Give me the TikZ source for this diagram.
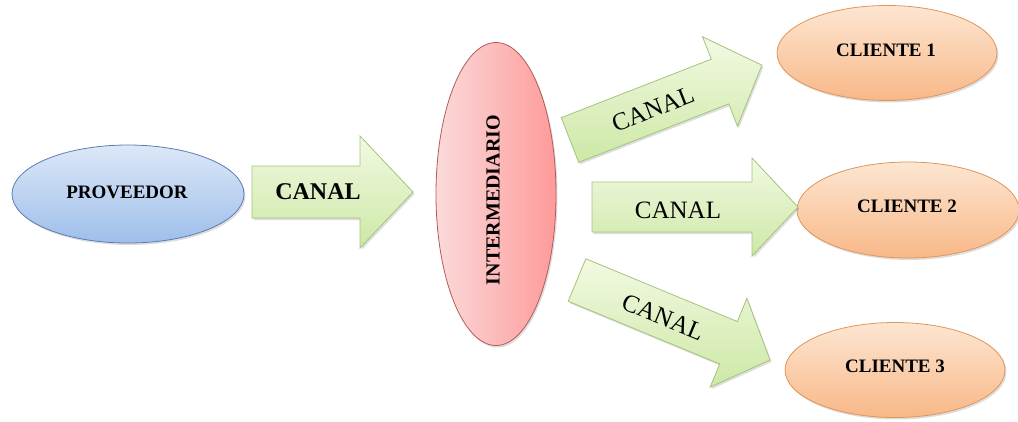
\documentclass[tikz,border=0pt]{standalone}
\usepackage{fontspec}
\setmainfont{Liberation Serif}
\usetikzlibrary{shapes.geometric,shadows}

\definecolor{provTop}{HTML}{DDE8F8}
\definecolor{provBot}{HTML}{9EBEEA}
\definecolor{provLine}{HTML}{5B7DB5}
\definecolor{intLeft}{HTML}{FBDADA}
\definecolor{intRight}{HTML}{FF9A9A}
\definecolor{intLine}{HTML}{B55A5A}
\definecolor{cliTop}{HTML}{FDE6D2}
\definecolor{cliBot}{HTML}{F8B888}
\definecolor{cliLine}{HTML}{E0965A}
\definecolor{arrTop}{HTML}{F2F9E2}
\definecolor{arrBot}{HTML}{CDE8A6}
\definecolor{arrLine}{HTML}{A3C47A}

\tikzset{
  softshadow/.style={drop shadow={shadow xshift=1.5pt, shadow yshift=-2pt, opacity=.22, fill=black!60}},
  oval/.style={ellipse, inner sep=0pt, line width=0.8pt, softshadow, text=black!90},
  provoval/.style={oval, draw=provLine, top color=provTop, bottom color=provBot},
  intoval/.style={oval, draw=intLine, left color=intLeft, right color=intRight},
  clioval/.style={oval, draw=cliLine, top color=cliTop, bottom color=cliBot},
  blockarrow/.style={draw=arrLine, line width=0.8pt, top color=arrTop, bottom color=arrBot, line join=miter, softshadow},
  boldlbl/.style={font=\bfseries\fontsize{19}{22}\selectfont},
  canalbold/.style={font=\bfseries\fontsize{24}{28}\selectfont},
  canalreg/.style={font=\fontsize{25}{29}\selectfont}
}

% block arrow: #1 tail centre, #2 angle, #3 length, #4 shaft half width,
% #5 head half width, #6 head length
\newcommand{\canalshape}[6]{%
  \begin{scope}[shift={#1}, rotate=#2]
    \path[blockarrow] (0,-#4) -- ({#3-#6},-#4) -- ({#3-#6},-#5) -- (#3,0)
      -- ({#3-#6},#5) -- ({#3-#6},#4) -- (0,#4) -- cycle;
  \end{scope}}

\begin{document}
\begin{tikzpicture}[x=1pt, y=-1pt]
  \useasboundingbox (0,0) rectangle (1018,421);

  % ellipses
  \node[provoval, minimum width=232pt, minimum height=98pt] (prov) at (128,194) {};
  \node[boldlbl] (provtxt) at (127,192) {PROVEEDOR};

  \node[intoval, minimum width=120pt, minimum height=303pt] (inter) at (496,194) {};
  \node[boldlbl, rotate=90, font=\bfseries\fontsize{20}{24}\selectfont] (intertxt) at (493,200) {INTERMEDIARIO};

  \node[clioval, minimum width=220pt, minimum height=95pt] (c1) at (887,53) {};
  \node[boldlbl] (c1txt) at (886,50) {CLIENTE 1};
  \node[clioval, minimum width=222pt, minimum height=96pt] (c2) at (908,210) {};
  \node[boldlbl] (c2txt) at (907,206) {CLIENTE 2};
  \node[clioval, minimum width=220pt, minimum height=95pt] (c3) at (895,370) {};
  \node[boldlbl] (c3txt) at (895,366) {CLIENTE 3};

  % channel arrows
  \canalshape{(252,192)}{0}{161}{26}{56}{53}
  \node[canalbold] (canal0) at (318,192) {CANAL};

  \canalshape{(570,140)}{21.3}{206}{24}{48}{45}
  \node[canalreg, rotate=21.3] (canal1) at (653,109) {CANAL};

  \canalshape{(592,207)}{0}{206}{25}{49}{46}
  \node[canalreg] (canal2) at (678,210) {CANAL};

  \canalshape{(577,280)}{-22.5}{209}{23}{48}{45}
  \node[canalreg, rotate=-22.5] (canal3) at (663,317) {CANAL};
\end{tikzpicture}
\end{document}
